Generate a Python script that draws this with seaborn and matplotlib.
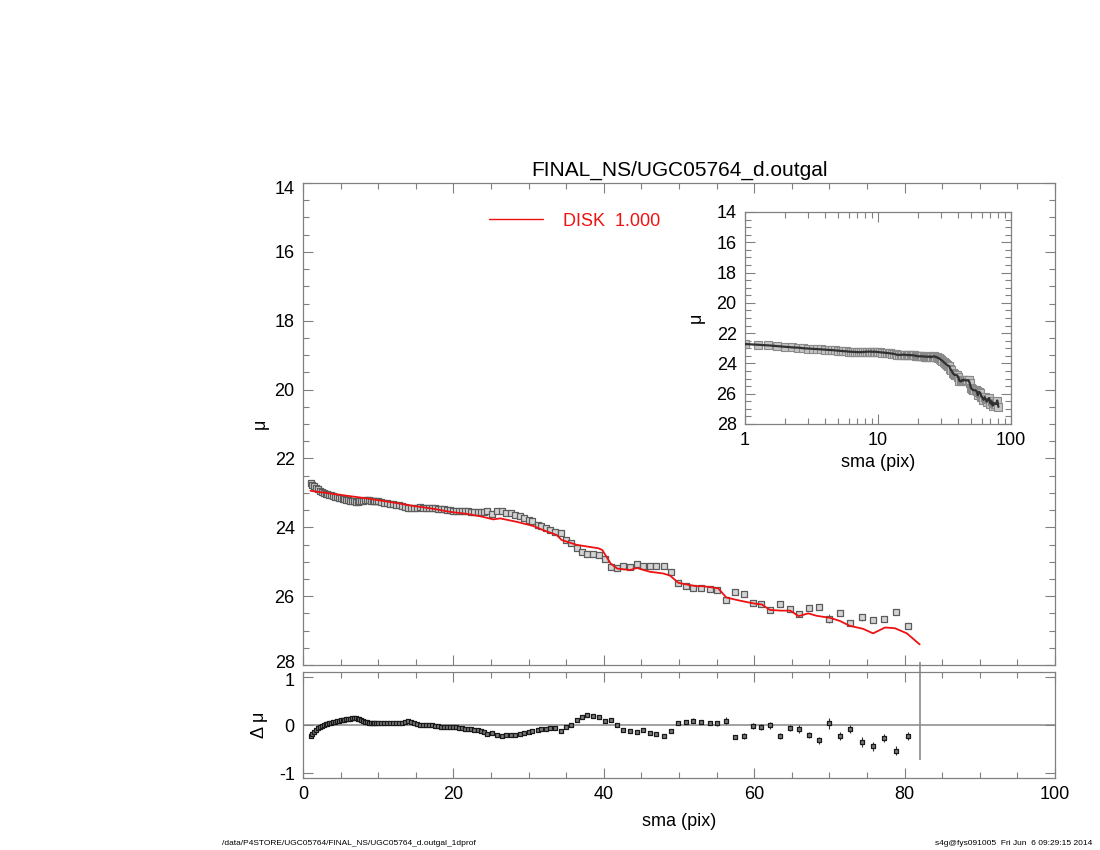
import numpy as np
import pandas as pd
import matplotlib
matplotlib.use("Agg")
import matplotlib.pyplot as plt
import matplotlib.transforms as mtransforms
import seaborn as sns
from matplotlib.ticker import MultipleLocator, FixedLocator, NullFormatter, LogLocator

# ---------------- data ----------------
sma = [1.0, 1.25, 1.5, 1.75, 2.0, 2.25, 2.5, 2.75, 3.0, 3.25, 3.5, 3.75, 4.0, 4.25, 4.5, 4.75,
       5.0, 5.25, 5.5, 5.75, 6.0, 6.25, 6.5, 6.75, 7.0, 7.25, 7.5, 7.75, 8.0, 8.25, 8.5, 8.75,
       9.0, 9.25, 9.5, 9.75, 10.0,
       10.4, 10.8, 11.2, 11.6, 12.0, 12.4, 12.8, 13.2, 13.6, 14.0, 14.4, 14.8, 15.2, 15.6, 16.0,
       16.4, 16.8, 17.2, 17.6, 18.0, 18.4, 18.8, 19.2, 19.6, 20.0, 20.4, 20.8, 21.2, 21.6, 22.0,
       22.4, 22.8, 23.2, 23.6, 24.0,
       24.4, 25.1, 25.8, 26.4, 27.0, 27.6, 28.2, 28.8, 29.4, 30.0, 30.5, 31.2, 31.7, 32.3, 32.9,
       33.5, 34.3, 35.0, 35.6, 36.4, 37.1, 37.8, 38.6, 39.4, 40.2, 40.9, 41.8, 42.6, 43.5, 44.4,
       45.2, 46.1, 47.0, 48.0, 48.9, 49.9, 50.9, 51.9, 52.9, 54.1, 55.1, 56.3, 57.4, 58.6, 59.8,
       60.9, 62.1, 63.4, 64.7, 65.9, 67.3, 68.6, 70.0, 71.4, 72.8, 74.3, 75.8, 77.3, 78.8, 80.4]

mu = [22.72, 22.77, 22.81, 22.86, 22.90, 22.94, 22.96, 23.00, 23.02, 23.04, 23.05, 23.07, 23.09,
      23.11, 23.12, 23.14, 23.16, 23.17, 23.19, 23.20, 23.22, 23.23, 23.24, 23.25, 23.26, 23.26,
      23.25, 23.24, 23.23, 23.22, 23.22, 23.22, 23.23, 23.23, 23.23, 23.24, 23.25,
      23.27, 23.28, 23.29, 23.31, 23.32, 23.34, 23.35, 23.37, 23.40, 23.44, 23.44, 23.43, 23.43,
      23.42, 23.43, 23.44, 23.45, 23.45, 23.45, 23.46, 23.47, 23.47, 23.50, 23.51, 23.53, 23.53,
      23.53, 23.53, 23.53, 23.54, 23.55, 23.55, 23.56, 23.56, 23.56,
      23.53, 23.60, 23.54, 23.53, 23.57, 23.59, 23.63, 23.67, 23.72, 23.78, 23.83, 23.92, 23.97,
      24.02, 24.09, 24.14, 24.17, 24.37, 24.46, 24.61, 24.71, 24.77, 24.78, 24.79, 24.92, 25.15,
      25.19, 25.11, 25.14, 25.07, 25.12, 25.12, 25.12, 25.12, 25.29, 25.61, 25.70, 25.77, 25.75,
      25.78, 25.82, 26.11, 25.87, 25.94, 26.19, 26.24, 26.40, 26.24, 26.38, 26.53, 26.33, 26.30,
      26.65, 26.50, 26.79, 26.61, 26.69, 26.67, 26.45, 26.87]

resid = [-0.22, -0.18, -0.14, -0.10, -0.07, -0.04, -0.02, 0.01, 0.02, 0.03, 0.04, 0.05, 0.06,
         0.07, 0.08, 0.09, 0.10, 0.10, 0.11, 0.12, 0.13, 0.13, 0.14, 0.14, 0.14, 0.13, 0.12, 0.10,
         0.08, 0.07, 0.06, 0.05, 0.05, 0.04, 0.04, 0.04, 0.04,
         0.04, 0.04, 0.04, 0.04, 0.04, 0.04, 0.04, 0.045, 0.06, 0.08, 0.07, 0.05, 0.03, 0.01, 0.01,
         0.005, 0.0, -0.01, -0.02, -0.03, -0.04, -0.05, -0.04, -0.04, -0.04, -0.05, -0.06, -0.07,
         -0.08, -0.08, -0.09, -0.10, -0.11, -0.12, -0.14,
         -0.19, -0.16, -0.21, -0.22, -0.21, -0.21, -0.20, -0.19, -0.17, -0.145, -0.125, -0.10,
         -0.09, -0.09, -0.07, -0.06, -0.13, -0.04, 0.01, 0.10, 0.17, 0.21, 0.19, 0.17, 0.09, 0.10,
         -0.01, -0.10, -0.12, -0.145, -0.11, -0.17, -0.19, -0.23, -0.13, 0.04, 0.07, 0.09, 0.06,
         0.04, 0.035, 0.09, -0.25, -0.23, -0.02, -0.035, -0.01, -0.23, -0.06, -0.08, -0.20, -0.32,
         0.035, -0.23, -0.08, -0.35, -0.44, -0.27, -0.53, -0.23]

mu_err = [0.01, 0.01, 0.01, 0.01, 0.01, 0.01, 0.01, 0.01, 0.01, 0.01, 0.01, 0.01, 0.01, 0.01,
          0.01, 0.01, 0.01, 0.01, 0.01, 0.01, 0.01, 0.01, 0.01, 0.01, 0.01, 0.01, 0.01, 0.01,
          0.01, 0.01, 0.01, 0.01, 0.01, 0.01, 0.01, 0.01, 0.01,
          0.015, 0.015, 0.015, 0.015, 0.015, 0.015, 0.015, 0.015, 0.015, 0.015, 0.015, 0.015,
          0.015, 0.015, 0.015, 0.015, 0.015, 0.015, 0.015, 0.015, 0.015, 0.015, 0.015, 0.015,
          0.015, 0.015, 0.015, 0.015, 0.015, 0.015, 0.015, 0.015, 0.015, 0.015, 0.015,
          0.02, 0.02, 0.02, 0.02, 0.02, 0.02, 0.02, 0.02, 0.02, 0.02, 0.02, 0.02, 0.02, 0.02,
          0.02, 0.02,
          0.03, 0.03, 0.03, 0.03, 0.03, 0.03, 0.03, 0.03, 0.03, 0.03, 0.03, 0.03, 0.03, 0.03,
          0.03, 0.03, 0.03, 0.03, 0.03,
          0.03, 0.04, 0.05, 0.04, 0.05, 0.05, 0.07, 0.05, 0.06, 0.06, 0.06, 0.07, 0.06, 0.07,
          0.08, 0.06, 0.07, 0.12, 0.08, 0.09, 0.10, 0.09, 0.08, 0.09, 0.09]

model_sma = [1.0, 4.0, 8.5, 12.0, 14.7, 17.3, 19.5, 21.8, 23.8, 25.3, 26.2, 28.4, 30.6, 31.9,
             33.7, 34.4, 36.4, 39.3, 39.8, 40.9, 41.8, 43.5, 44.4, 46.1, 47.9, 48.8, 49.9, 51.0,
             52.3, 53.2, 55.2, 56.3, 58.1, 59.9, 61.0, 62.1, 63.6, 64.8, 65.9, 67.2, 68.3, 70.1,
             71.4, 72.7, 74.5, 75.8, 77.4, 78.7, 80.3, 82.0]
model_mu = [22.94, 23.03, 23.16, 23.28, 23.38, 23.46, 23.55, 23.61, 23.69, 23.77, 23.74, 23.84,
            23.96, 24.08, 24.22, 24.37, 24.51, 24.61, 24.66, 25.05, 25.20, 25.24, 25.18, 25.29,
            25.34, 25.40, 25.61, 25.66, 25.71, 25.71, 25.77, 26.04, 26.13, 26.21, 26.24, 26.40,
            26.42, 26.42, 26.58, 26.50, 26.57, 26.63, 26.72, 26.86, 26.95, 27.08, 26.91, 26.93,
            27.08, 27.40]

# last isophote: its residual bar runs off the top of the panel
cut_sma = [82.0]
cut_lo = [-0.72]
cut_hi = [1.3]

model_label = "DISK  1.000"
title_text = "FINAL_NS/UGC05764_d.outgal"
footer_left = "/data/P4STORE/UGC05764/FINAL_NS/UGC05764_d.outgal_1dprof"
footer_right = "s4g@fys091005  Fri Jun  6 09:29:15 2014"

df = pd.DataFrame({"sma": sma, "mu": mu, "resid": resid, "err": mu_err})
dm = pd.DataFrame({"sma": model_sma, "mu": model_mu})

# ---------------- style ----------------
sns.set_theme(style="white")
plt.rcParams["font.family"] = ["Liberation Sans", "DejaVu Sans"]
plt.rcParams["text.color"] = "black"
plt.rcParams["axes.labelcolor"] = "black"
plt.rcParams["axes.titlecolor"] = "black"

FRAME = "#808080"
RED = "#ee1111"


def style_axes(a, fs=13):
    for s in a.spines.values():
        s.set_color(FRAME)
        s.set_linewidth(0.9)
    a.tick_params(which="both", direction="in", top=True, right=True,
                  bottom=True, left=True, colors=FRAME, labelcolor="black",
                  labelsize=fs)
    a.tick_params(which="major", length=7, width=0.8, pad=6)
    a.tick_params(which="minor", length=4, width=0.8)


def nudge(label, fig, dy_px):
    label.set_transform(label.get_transform() +
                        mtransforms.ScaledTranslation(0, dy_px / fig.dpi, fig.dpi_scale_trans))


fig = plt.figure(figsize=(11, 8.5), dpi=100)
ax = fig.add_axes([0.2755, 0.2176, 0.6836, 0.5671])
axr = fig.add_axes([0.2755, 0.0847, 0.6836, 0.1247])
axi = fig.add_axes([0.6773, 0.5012, 0.2418, 0.2494])

# ---------------- main panel ----------------
ax.errorbar(df["sma"], df["mu"], yerr=df["err"], fmt="none", ecolor="#6a6a6a",
            elinewidth=0.7, zorder=1)
sns.scatterplot(data=df, x="sma", y="mu", marker="s", s=22, color="#d4d4d4",
                edgecolor="#5c5c5c", linewidth=0.9, ax=ax, zorder=2)
sns.lineplot(data=dm, x="sma", y="mu", sort=False, color=RED, lw=1.3,
             ax=ax, zorder=3, label=model_label)
ax.set_xlim(0, 100)
ax.set_ylim(28, 14)
ax.xaxis.set_major_locator(MultipleLocator(20))
ax.xaxis.set_minor_locator(MultipleLocator(5))
ax.xaxis.set_major_formatter(NullFormatter())
ax.yaxis.set_major_locator(MultipleLocator(2))
ax.yaxis.set_minor_locator(MultipleLocator(0.5))
style_axes(ax)
ax.set_xlabel("")
ax.set_ylabel("μ", fontsize=13)
ax.yaxis.set_label_coords(-0.046, 0.5)
ax.set_title(title_text, fontsize=15, pad=5)
leg = ax.legend(loc="center left", bbox_to_anchor=(0.247, 0.921), frameon=False,
                fontsize=13, handlelength=3.0, handletextpad=1.1, borderpad=0,
                borderaxespad=0)
for t in leg.get_texts():
    t.set_color(RED)
for h in leg.get_lines():
    h.set_linewidth(1.0)

# ---------------- residual panel ----------------
axr.axhline(0, color="#9a9a9a", lw=1.3, zorder=0)
axr.errorbar(df["sma"], df["resid"], yerr=df["err"], fmt="none", ecolor="#303030",
             elinewidth=0.8, zorder=1)
sns.scatterplot(data=df, x="sma", y="resid", marker="s", s=12, color="#7a7a7a",
                edgecolor="#1a1a1a", linewidth=0.9, ax=axr, zorder=2)
axr.vlines(cut_sma, cut_lo, cut_hi, color="#8a8a8a", lw=1.2, zorder=1,
           clip_on=False)
axr.set_xlim(0, 100)
axr.set_ylim(-1.1, 1.1)
axr.xaxis.set_major_locator(MultipleLocator(20))
axr.xaxis.set_minor_locator(MultipleLocator(5))
axr.yaxis.set_major_locator(FixedLocator([-1, 0, 1]))
axr.set_yticklabels(["-1", "0", "1"])
style_axes(axr)
axr.tick_params(axis="y", which="minor", length=0)
axr.set_xlabel("sma (pix)", fontsize=13)
axr.xaxis.set_label_coords(0.5, -0.33)
axr.set_ylabel("Δ μ", fontsize=13)
axr.yaxis.set_label_coords(-0.046, 0.5)

# ---------------- inset (log) ----------------
axi.errorbar(df["sma"], df["mu"], yerr=df["err"], fmt="none", ecolor="#555555",
             elinewidth=0.8, zorder=1)
sns.scatterplot(data=df, x="sma", y="mu", marker="s", s=26, color="#c4c4c4",
                edgecolor="#8a8a8a", linewidth=0.8, ax=axi, zorder=2)
sns.lineplot(data=df, x="sma", y="mu", sort=False, color="#303030", lw=1.6,
             ax=axi, zorder=3)
axi.set_xscale("log")
axi.set_xlim(1, 100)
axi.set_ylim(28, 14)
axi.xaxis.set_major_locator(FixedLocator([1, 10, 100]))
axi.set_xticklabels(["1", "10", "100"])
axi.xaxis.set_minor_locator(LogLocator(base=10, subs=np.arange(2, 10)))
axi.xaxis.set_minor_formatter(NullFormatter())
axi.yaxis.set_major_locator(MultipleLocator(2))
axi.yaxis.set_minor_locator(MultipleLocator(0.5))
style_axes(axi)
axi.set_xlabel("sma (pix)", fontsize=13)
axi.xaxis.set_label_coords(0.5, -0.14)
axi.set_ylabel("μ", fontsize=13)
axi.yaxis.set_label_coords(-0.15, 0.5)

# keep the stacked tick labels at the panel join apart
fig.canvas.draw()
for lab in ax.get_yticklabels():
    if lab.get_text() == "28":
        nudge(lab, fig, 4)
    if lab.get_text() == "14":
        nudge(lab, fig, -4)
for lab in axr.get_yticklabels():
    if lab.get_text() == "1":
        nudge(lab, fig, -3)

# ---------------- footer ----------------
fig.text(0.202, 0.004, footer_left, fontsize=6, ha="left", va="bottom")
fig.text(0.993, 0.004, footer_right, fontsize=6, ha="right", va="bottom")

fig.savefig("out.png", dpi=100)
